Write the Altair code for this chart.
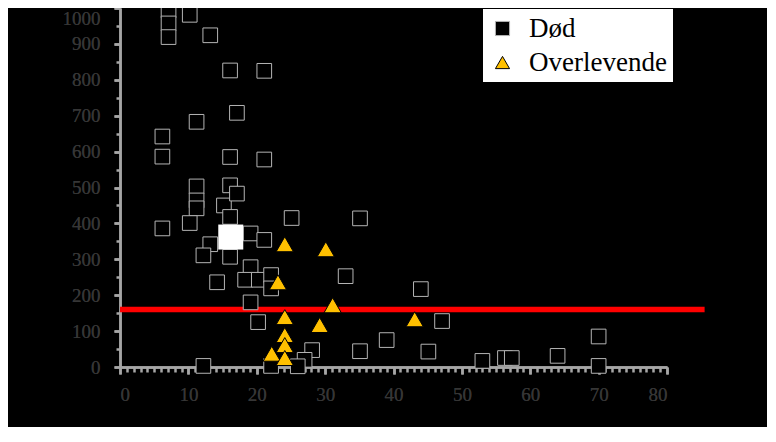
import altair as alt
import pandas as pd

categories = ["Død", "Overlevende"]
dod_points = [
    (7.1, 993), (7.1, 957), (7.1, 919), (10.2, 981), (13.2, 924), (16.1, 826),
    (21.1, 825), (17.1, 708), (11.2, 683), (6.2, 642), (6.2, 586), (16.1, 585),
    (21.1, 578), (11.2, 503), (11.2, 464), (11.2, 442), (15.2, 450), (16.1, 506),
    (17.1, 483), (16.1, 418), (10.2, 401), (6.2, 386), (19.1, 372), (21.1, 354),
    (13.2, 342), (12.2, 311), (16.1, 307), (14.2, 236), (19.1, 278), (18.3, 243),
    (20.3, 243), (22.1, 256), (22.1, 219), (19.1, 180), (20.2, 125), (12.2, 3),
    (22.1, 3), (25.1, 415), (35.1, 414), (33.0, 253), (44.0, 217), (47.1, 128),
    (39.0, 75), (35.1, 44), (45.1, 43), (28.1, 47), (27.0, 20), (26.0, 2),
    (70.0, 85), (70.0, 3), (64.0, 31), (56.3, 25), (57.3, 25), (53.0, 17),
]
overlevende_points = [
    (24.1, 342), (30.1, 328), (23.1, 236), (31.1, 172), (24.1, 139), (29.2, 117),
    (43.1, 133), (24.1, 89), (24.1, 61), (22.2, 37), (24.1, 25),
]
mean_point = [(16.2, 362)]
threshold_y = [160]
line_x = [0, 85.5]
x_major = list(range(0, 81, 10))
x_minor = [v for v in range(0, 81) if v % 10 != 0]
y_major = list(range(0, 1001, 100))
y_minor = list(range(50, 1000, 100))

rows = [{"x": x, "y": y, "type": categories[0]} for x, y in dod_points]
rows += [{"x": x, "y": y, "type": categories[1]} for x, y in overlevende_points]
df = pd.DataFrame(rows)
mean_df = pd.DataFrame([{"x": x, "y": y} for x, y in mean_point])
line_df = pd.DataFrame([{"x": line_x[0], "x2": line_x[1], "y": threshold_y[0]}])

AX = "#a6a6a6"
LBL = "#363636"
FONT = "Liberation Serif"

xs = alt.Scale(domain=[0, 80], nice=False)
ys = alt.Scale(domain=[0, 1000], nice=False)

legend = alt.Legend(
    title=None, orient="none", legendX=363, legendY=1,
    fillColor="white", padding=6, rowPadding=6,
    labelFont=FONT, labelFontSize=27, labelColor="black",
    labelOffset=13, symbolSize=200, symbolStrokeColor="black",
    symbolStrokeWidth=1)

base = alt.Chart(df).encode(
    x=alt.X("x:Q", scale=xs, axis=alt.Axis(
        orient="bottom", values=x_major, title=None, tickSize=7, tickWidth=2.5,
        tickColor=AX, domainColor=AX, domainWidth=2.5, labelFont=FONT,
        labelFontSize=19, labelColor=LBL, labelPadding=11, grid=False, format="d")),
    y=alt.Y("y:Q", scale=ys, axis=alt.Axis(
        orient="left", values=y_major, title=None, tickSize=6, tickWidth=2.5,
        tickColor=AX, domainColor=AX, domainWidth=2.5, labelFont=FONT,
        labelFontSize=19, labelColor=LBL, labelPadding=14, grid=False,
        labelFlush=False, format="d",
        labelOffset={"condition": {"test": "datum.value >= 1000", "value": 10}, "value": 0})),
    fill=alt.Fill("type:N", scale=alt.Scale(domain=categories, range=["#000000", "#FFC000"]),
                  legend=legend),
    shape=alt.Shape("type:N", scale=alt.Scale(domain=categories, range=["square", "triangle-up"])),
    stroke=alt.Stroke("type:N", scale=alt.Scale(domain=categories, range=["#b4b4b4", "#000000"]),
                      legend=None),
)

squares = base.transform_filter(alt.datum.type == categories[0]).mark_point(
    filled=True, size=215, strokeWidth=1, opacity=1)
triangles = base.transform_filter(alt.datum.type == categories[1]).mark_point(
    filled=True, size=300, strokeWidth=1, opacity=1)

minor = alt.Chart(df).mark_point(opacity=0).encode(
    x=alt.X("x:Q", scale=xs, axis=alt.Axis(
        orient="bottom", values=x_minor, title=None, tickSize=5, tickWidth=2.5,
        tickColor=AX, domain=False, labels=False, grid=False)),
    y=alt.Y("y:Q", scale=ys, axis=alt.Axis(
        orient="left", values=y_minor, title=None, tickSize=4, tickWidth=2.5,
        tickColor=AX, domain=False, labels=False, grid=False)),
)

mean_layer = alt.Chart(mean_df).mark_point(
    shape="square", filled=True, size=625, color="white", opacity=1
).encode(
    x=alt.X("x:Q", scale=xs, axis=None),
    y=alt.Y("y:Q", scale=ys, axis=None),
)

red_line = alt.Chart(line_df).mark_rule(color="#ff0000", strokeWidth=5.5).encode(
    x=alt.X("x:Q", scale=xs, axis=None),
    x2="x2:Q",
    y=alt.Y("y:Q", scale=ys, axis=None),
)

chart = alt.layer(minor, red_line, squares, triangles, mean_layer).resolve_axis(
    x="independent", y="independent"
).properties(
    width=547, height=359,
    padding={"left": 112, "top": 0, "right": 100, "bottom": 60},
    autosize=alt.AutoSizeParams(type="none"),
    background="black",
).configure_view(stroke=None)

chart.save("out.html", embed_options={"renderer": "svg", "actions": False})
